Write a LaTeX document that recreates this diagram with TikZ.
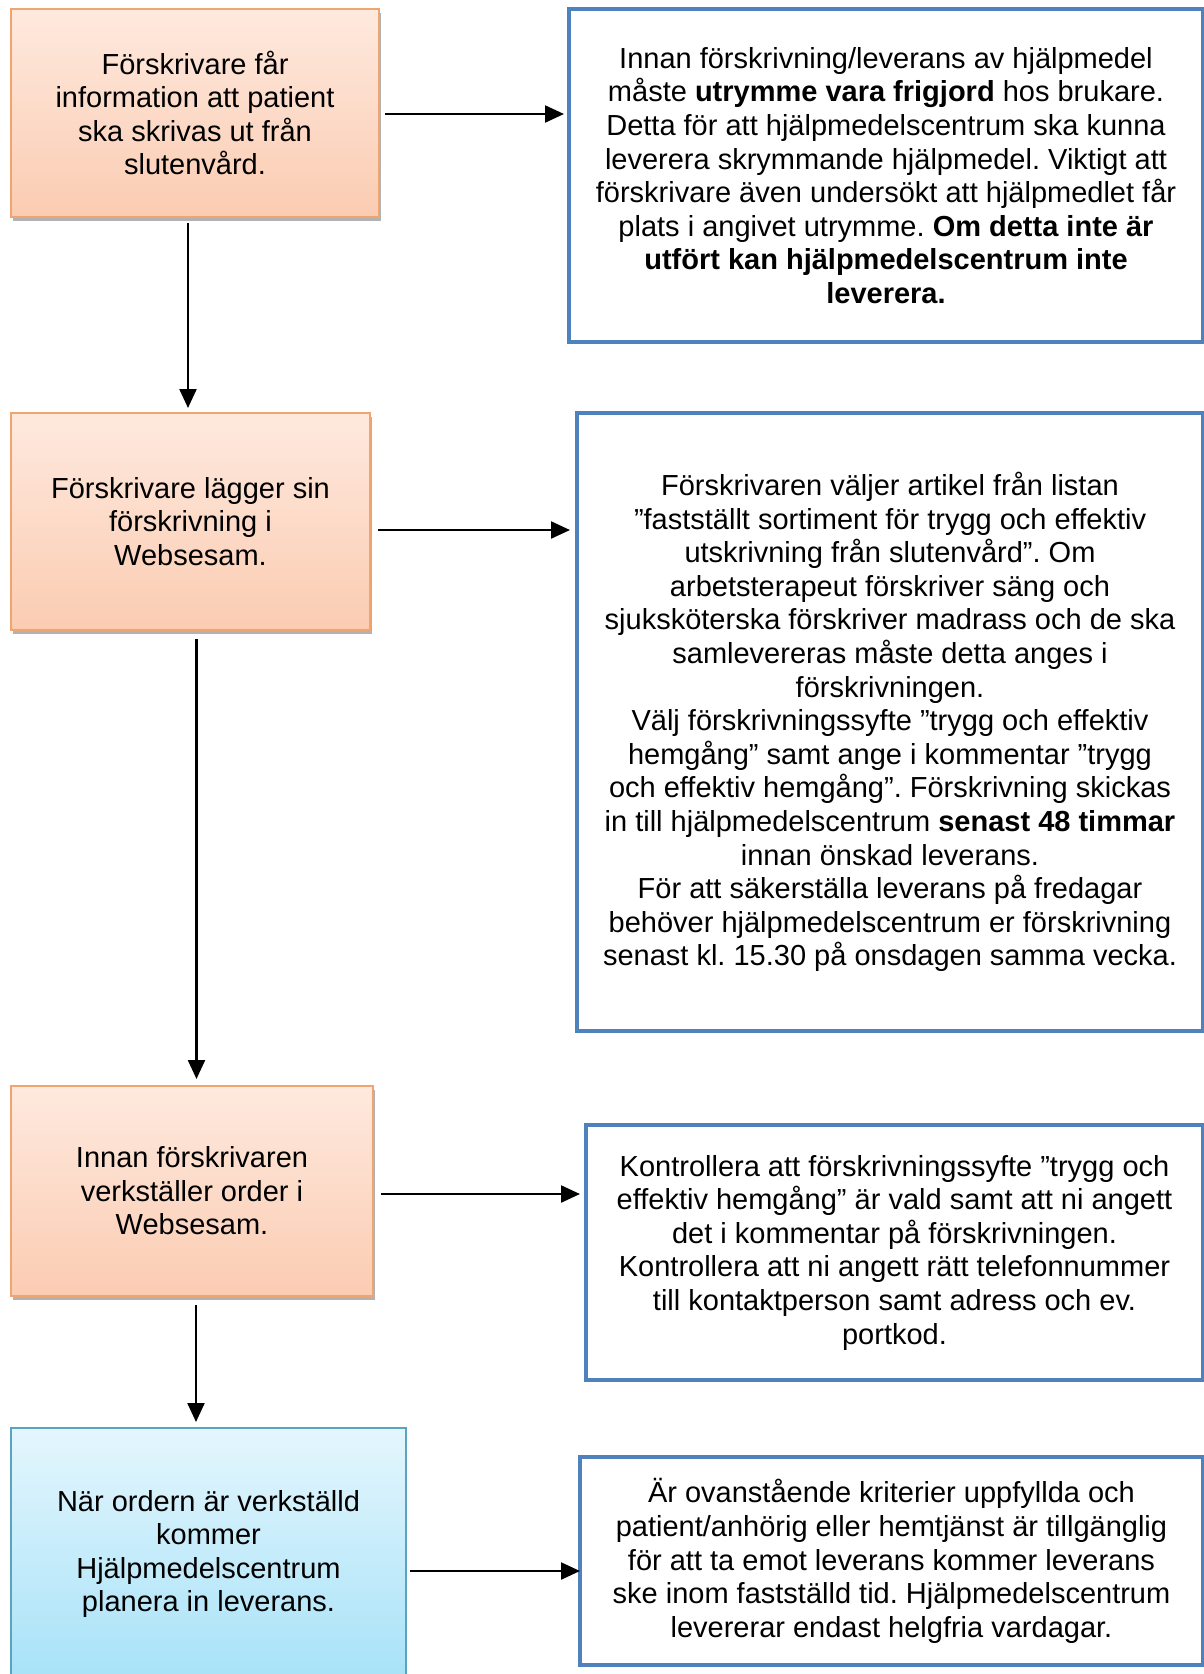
\documentclass[tikz,border=0pt]{standalone}
\usepackage{fontspec}
\setmainfont{Liberation Sans}
\frenchspacing
\usetikzlibrary{arrows.meta,shadows,calc}
\definecolor{obord}{RGB}{240,165,110}
\definecolor{otop}{RGB}{254,233,222}
\definecolor{obot}{RGB}{251,204,178}
\definecolor{btop}{RGB}{228,246,253}
\definecolor{bbot}{RGB}{167,226,248}
\definecolor{bbord}{RGB}{90,165,190}
\definecolor{rbord}{RGB}{79,129,189}
\tikzset{
  txt/.style={font=\fontsize{29}{33.6}\selectfont, align=center, inner sep=0pt, text=black},
  obox/.style={txt, rectangle, draw=obord, line width=2pt, top color=otop, bottom color=obot,
     drop shadow={shadow xshift=2pt, shadow yshift=-4pt, fill=black, opacity=0.3}},
  bbox/.style={txt, rectangle, draw=bbord, line width=2pt, top color=btop, bottom color=bbot},
  rbox/.style={txt, rectangle, draw=rbord, line width=4pt, fill=white},
  arr/.style={line width=2.3pt, -{Triangle[length=19pt,width=17pt]}}
}
\begin{document}
\begin{tikzpicture}[x=1pt,y=-1pt]
\useasboundingbox[fill=white] (0,0) rectangle (1204,1674);

\node[obox, minimum width=368pt, minimum height=208pt] (b1) at (195,113)
  {Förskrivare får\\information att patient\\ska skrivas ut från\\slutenvård.};
\node[rbox, minimum width=634pt, minimum height=333pt] (r1) at (886,175.5)
  {Innan förskrivning/leverans av hjälpmedel\\
   måste \textbf{utrymme vara frigjord} hos brukare.\\
   Detta för att hjälpmedelscentrum ska kunna\\
   leverera skrymmande hjälpmedel. Viktigt att\\
   förskrivare även undersökt att hjälpmedlet får\\
   plats i angivet utrymme. \textbf{Om detta inte är}\\
   \textbf{utfört kan hjälpmedelscentrum inte}\\
   \textbf{leverera.}};

\node[obox, minimum width=359pt, minimum height=217pt] (b2) at (190.5,521.5)
  {Förskrivare lägger sin\\förskrivning i\\Websesam.};
\node[rbox, minimum width=626pt, minimum height=618pt] (r2) at (890,722)
  {Förskrivaren väljer artikel från listan\\
   ”fastställt sortiment för trygg och effektiv\\
   utskrivning från slutenvård”. Om\\
   arbetsterapeut förskriver säng och\\
   sjuksköterska förskriver madrass och de ska\\
   samlevereras måste detta anges i\\
   förskrivningen.\\
   Välj förskrivningssyfte ”trygg och effektiv\\
   hemgång” samt ange i kommentar ”trygg\\
   och effektiv hemgång”. Förskrivning skickas\\
   in till hjälpmedelscentrum \textbf{senast 48 timmar}\\
   innan önskad leverans.\\
   För att säkerställa leverans på fredagar\\
   behöver hjälpmedelscentrum er förskrivning\\
   senast kl. 15.30 på onsdagen samma vecka.};

\node[obox, minimum width=362pt, minimum height=210pt] (b3) at (192,1191)
  {Innan förskrivaren\\verkställer order i\\Websesam.};
\node[rbox, minimum width=617pt, minimum height=255pt] (r3) at (894.5,1252.5)
  {Kontrollera att förskrivningssyfte ”trygg och\\
   effektiv hemgång” är vald samt att ni angett\\
   det i kommentar på förskrivningen.\\
   Kontrollera att ni angett rätt telefonnummer\\
   till kontaktperson samt adress och ev.\\
   portkod.};

\node[bbox, minimum width=395pt, minimum height=252pt] (b4) at (208.5,1554)
  {När ordern är verkställd\\kommer\\Hjälpmedelscentrum\\planera in leverans.};
\node[rbox, minimum width=623pt, minimum height=208pt] (r4) at (891.5,1561)
  {Är ovanstående kriterier uppfyllda och\\
   patient/anhörig eller hemtjänst är tillgänglig\\
   för att ta emot leverans kommer leverans\\
   ske inom fastställd tid. Hjälpmedelscentrum\\
   levererar endast helgfria vardagar.};

% horizontal arrows
\draw[arr] ($(b1.east)+(5,1)$) -- ($(b1.east -| r1.west)+(-3,1)$);
\draw[arr] ($(b2.east)+(7,8.5)$) -- ($(b2.east -| r2.west)+(-5,8.5)$);
\draw[arr] ($(b3.east)+(7,3)$) -- ($(b3.east -| r3.west)+(-4,3)$);
\draw[arr] ($(b4.east)+(3,17)$) -- ($(b4.east -| r4.west)+(2,17)$);

% vertical arrows
\draw[arr] ($(b1.south -| b2.north)+(-2.5,5)$) -- ($(b2.north)+(-2.5,-4)$);
\draw[arr] ($(b2.south -| b3.north)+(4.5,8)$) -- ($(b3.north)+(4.5,-6)$);
\draw[arr] ($(b3.south)+(4,8)$) -- ($(b3.south |- b4.north)+(4,-5)$);
\end{tikzpicture}
\end{document}
